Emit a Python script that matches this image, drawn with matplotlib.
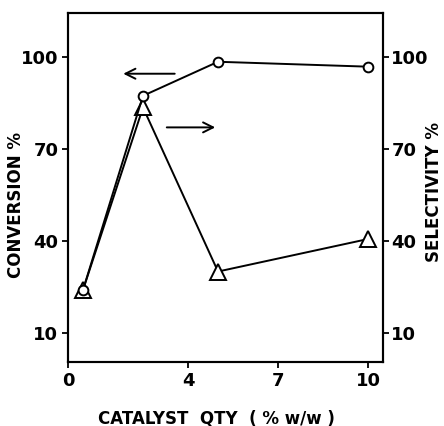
import matplotlib.pyplot as plt

# catalyst quantity (% w/w)
catalyst_qty = [0.5, 2.5, 5, 10]
conversion = [24, 87.3, 98.4, 96.8]
selectivity = [24, 83.5, 30, 40.6]

ticks_x = [0, 4, 7, 10]
ticks_y = [10, 40, 70, 100]

plt.rcParams["font.weight"] = "bold"
plt.rcParams["axes.labelweight"] = "bold"

fig = plt.figure(figsize=(4.44, 4.26), dpi=100)
ax = fig.add_axes([68 / 444, 64 / 426, 315 / 444, 349 / 426])

ax.plot(catalyst_qty, conversion, color="black", lw=1.4, marker="o",
        ms=7, mfc="white", mec="black", mew=1.4, zorder=3)
ax.plot(catalyst_qty, selectivity, color="black", lw=1.4, marker="^",
        ms=11, mfc="white", mec="black", mew=1.4, zorder=2)

ax.set_xlim(0, 10.5)
ax.set_ylim(0.5, 114.3)
ax.set_xticks(ticks_x)
ax.set_yticks(ticks_y)
ax.tick_params(direction="out", length=4, width=1.3, labelsize=13, pad=3)

ax2 = ax.twinx()
ax2.set_ylim(ax.get_ylim())
ax2.set_yticks(ticks_y)
ax2.tick_params(direction="out", length=4, width=1.3, labelsize=13, pad=2)

for a in (ax, ax2):
    for s in a.spines.values():
        s.set_linewidth(1.5)

ax.set_xlabel("CATALYST  QTY  ( % w/w )", fontsize=12)
ax.xaxis.set_label_coords(0.47, -0.135)
ax.set_ylabel("CONVERSION %", fontsize=12)
ax.yaxis.set_label_coords(-0.137, 0.45)
ax2.set_ylabel("SELECTIVITY %", fontsize=12)
ax2.yaxis.set_label_coords(1.132, 0.487)

# arrows pointing to the axes each series belongs to
ax.annotate("", xy=(1.75, 94.5), xytext=(3.65, 94.5),
            arrowprops=dict(arrowstyle="->", color="black", lw=1.4,
                            mutation_scale=18))
ax.annotate("", xy=(5.0, 77), xytext=(3.2, 77),
            arrowprops=dict(arrowstyle="->", color="black", lw=1.4,
                            mutation_scale=18))

fig.savefig("out.png", dpi=100)
